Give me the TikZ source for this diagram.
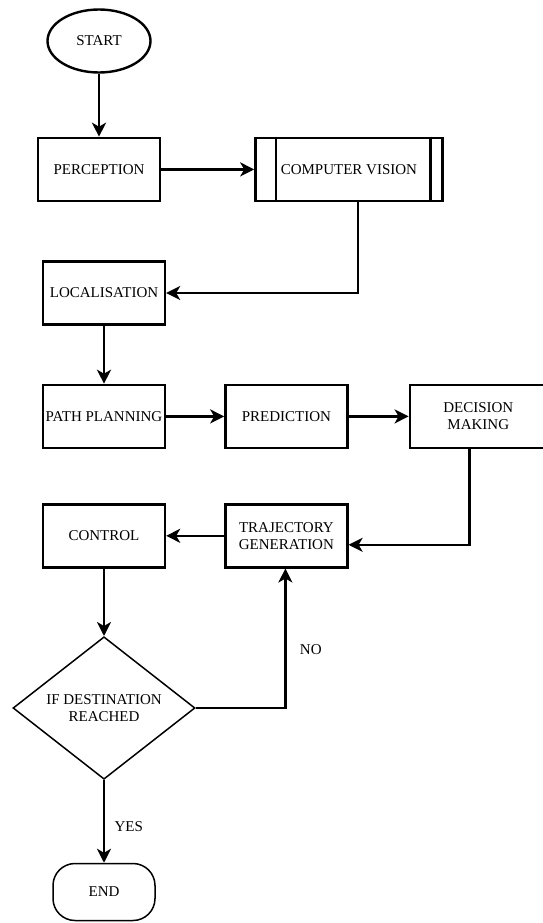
\documentclass[tikz,border=0pt]{standalone}
\usepackage{fontspec}
\setmainfont{Liberation Serif}
\usetikzlibrary{positioning,shapes.geometric,arrows.meta}

\tikzset{
	process/.style={draw, line width=2.4pt, minimum width=122pt, minimum height=63pt, inner sep=1pt, align=center},
	terminal/.style={draw, minimum width=103pt, minimum height=63pt, inner sep=0pt},
	decision/.style={draw, diamond, line width=1.5pt, minimum width=182pt, minimum height=136pt, inner sep=0pt, align=center},
	flow/.style={line width=2.4pt, -{Stealth[length=14pt,width=14pt,inset=4pt]}}
}

\begin{document}
\begin{tikzpicture}[x=1pt, y=-1pt, font=\fontsize{15}{17}\selectfont]
	\useasboundingbox (0,0) rectangle (543,923);
	%% top row
	\node[terminal, ellipse, line width=2.4pt] (start) at (99,41) {START};
	\node[process, below=63pt of start] (perc) {PERCEPTION};
	\node[process, minimum width=187pt, right=93pt of perc] (cv) {COMPUTER VISION};
	\draw[line width=2.4pt] ([xshift=22pt]cv.north west) -- ([xshift=22pt]cv.south west)
		([xshift=-13pt]cv.north east) -- ([xshift=-13pt]cv.south east);
	%% middle rows
	\node[process] (loc) at (104,293) {LOCALISATION};
	\node[process, below=58pt of loc] (plan) {PATH PLANNING};
	\node[process, right=58pt of plan] (pred) {PREDICTION};
	\node[process, minimum width=137pt, right=60pt of pred] (dm) {DECISION\\MAKING};
	\node[process, below=54pt of plan] (ctrl) {CONTROL};
	\node[process, below=54pt of pred] (traj) {TRAJECTORY\\GENERATION};
	%% decision and end
	\node[decision] (dest) at (104,708) {IF DESTINATION\\REACHED};
	\node[terminal, rounded corners=22pt, line width=1.5pt, minimum width=102pt, minimum height=57pt] (finish) at (104,892) {END};

	% connectors
	\draw[flow] (start) -- (perc);
	\draw[flow] (perc) -- (cv);
	\draw[flow] ([xshift=9pt]cv.south) |- (loc);
	\draw[flow] (loc) -- (plan);
	\draw[flow] (plan) -- (pred);
	\draw[flow] (pred) -- (dm);
	\draw[flow] ([xshift=-9pt]dm.south) |- ([yshift=-9pt]traj.east);
	\draw[flow] (traj) -- (ctrl);
	\draw[flow] (ctrl) -- (dest);
	\draw[flow] (dest.east) -| node[pos=0.71, right=10pt] {NO} ([xshift=-1pt]traj.south);
	\draw[flow] (dest) -- node[pos=0.56, right=6pt] {YES} (finish);
\end{tikzpicture}
\end{document}
